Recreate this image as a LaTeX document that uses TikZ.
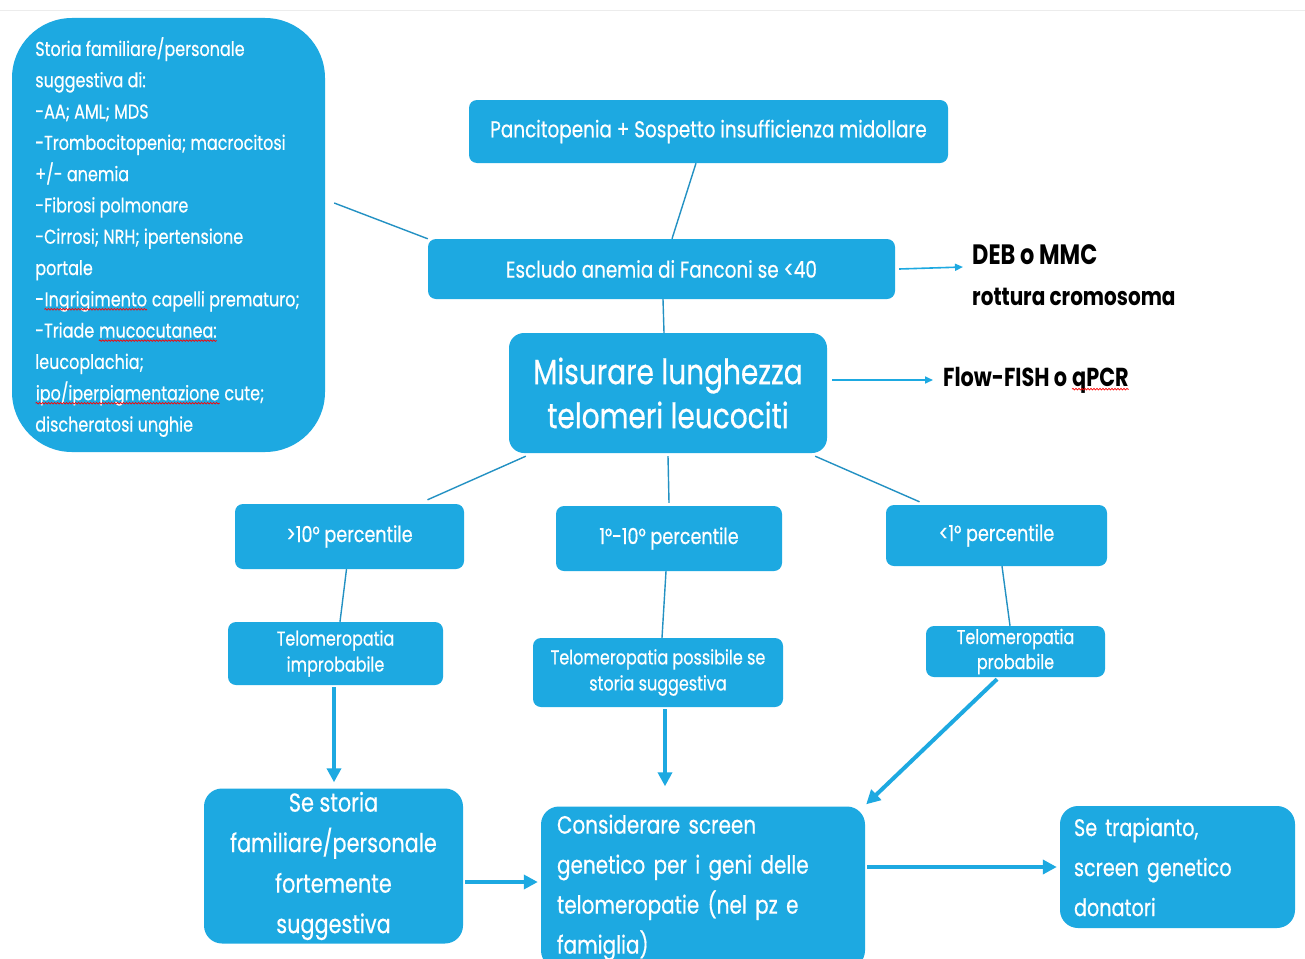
\documentclass[tikz,border=0pt]{standalone}
\usepackage{fontspec}
\setmainfont[FakeStretch=0.8, UprightFeatures={FakeBold=0.5}]{Poppins}
\usetikzlibrary{arrows.meta,decorations.pathmorphing}
\definecolor{boxblue}{RGB}{29,169,225}
\definecolor{lineblue}{RGB}{35,145,195}
\newcommand\spellmark[1]{\tikz[baseline=(sw.base), sharp corners, x=1pt, y=1pt]{\node[inner sep=0pt, fill=none] (sw) {#1};
  \draw[red, line width=0.7pt, decorate, decoration={snake, amplitude=0.8pt, segment length=3pt}]
  ([yshift=-3pt]sw.base west) -- ([yshift=-3pt]sw.base east);}}
\tikzset{
  box/.style={fill=boxblue, text=white, rounded corners=8pt, align=center, inner sep=0pt},
  link/.style={draw=lineblue, line width=1.4pt},
  flow/.style={draw=boxblue, line width=4pt, -{Triangle[length=14pt,width=14pt]}},
  hint/.style={draw=boxblue, line width=1.6pt, -{Triangle[length=8pt,width=7pt]}},
  lab/.style={anchor=west, font=\bfseries, inner sep=0pt}
}

\begin{document}
\begin{tikzpicture}[x=1pt,y=-1pt]
\useasboundingbox (0,0) rectangle (1305,958);
\clip (0,0) rectangle (1305,958);
\fill[white] (0,0) rectangle (1305,958);
\draw[gray!15] (0,10) -- (1305,10);

% boxes
\node[box, rounded corners=60pt, minimum width=313pt, minimum height=434pt] (hist) at (168.5,235) {};
\node[align=left, text=white, inner sep=0pt, font=\fontsize{20}{31.3}\selectfont] (histtxt) at (167.5,237)
  {Storia familiare/personale\\ suggestiva di:\\ -AA; AML; MDS\\ -Trombocitopenia; macrocitosi\\
   +/- anemia\\ -Fibrosi polmonare\\ -Cirrosi; NRH; ipertensione\\ portale\\
   -\spellmark{Ingrigimento} capelli prematuro;\\ -Triade \spellmark{mucocutanea:}\\ leucoplachia;\\
   \spellmark{ipo/iperpigmentazione} cute;\\ discheratosi unghie};
\node[box, minimum width=479pt, minimum height=63pt, font=\fontsize{23}{28}\selectfont] (panc) at (708.5,131.5)
  {Pancitopenia + Sospetto insufficienza midollare};
\node[box, minimum width=467pt, minimum height=60pt, font=\fontsize{23}{28}\selectfont] (escl) at (661.5,269)
  {Escludo anemia di Fanconi se <40};
\node[box, rounded corners=15pt, minimum width=318pt, minimum height=120pt, font=\fontsize{35}{44}\selectfont] (misu) at (668,393)
  {Misurare lunghezza\\ telomeri leucociti};
\node[box, minimum width=229pt, minimum height=65pt, font=\fontsize{22}{26}\selectfont] (p10) at (349.5,536.5)
  {>10\textdegree{} percentile};
\node[box, minimum width=226pt, minimum height=65pt, font=\fontsize{22}{26}\selectfont] (p110) at (669,538.5)
  {1\textdegree-10\textdegree{} percentile};
\node[box, minimum width=221pt, minimum height=61pt, font=\fontsize{22}{26}\selectfont] (p1) at (996.5,535.5)
  {<1\textdegree{} percentile};
\node[box, minimum width=215pt, minimum height=63pt, font=\fontsize{20}{26}\selectfont] (timp) at (335.5,653.5)
  {Telomeropatia\\ improbabile};
\node[box, minimum width=250pt, minimum height=69pt, font=\fontsize{20}{26}\selectfont] (tposs) at (658,672.5)
  {Telomeropatia possibile se\\ storia suggestiva};
\node[box, minimum width=179pt, minimum height=51pt, font=\fontsize{20}{25}\selectfont] (tprob) at (1015.5,651.5)
  {Telomeropatia\\ probabile};
\node[box, rounded corners=18pt, minimum width=259pt, minimum height=155pt, font=\fontsize{26}{40.5}\selectfont] (sest) at (333.5,866)
  {Se storia\\ familiare/personale\\ fortemente\\ suggestiva};
\node[box, rounded corners=18pt, minimum width=324pt, minimum height=162pt, text width=292pt, align=left,
  font=\fontsize{25}{40}\selectfont] (cons) at (703,887.5)
  {Considerare screen\\ genetico per i geni delle\\ telomeropatie (nel pz e\\ famiglia)};
\node[box, rounded corners=18pt, minimum width=235pt, minimum height=122pt, text width=207pt, align=left,
  font=\fontsize{24}{40}\selectfont] (trap) at (1177.5,867)
  {Se trapianto,\\ screen genetico\\ donatori};

% side labels
\node[lab, font=\bfseries\fontsize{28}{30}\selectfont] (deb) at (972,255) {DEB o MMC};
\node[lab, font=\bfseries\fontsize{25}{28}\selectfont] (rott) at (972,297) {rottura cromosoma};
\node[lab, font=\bfseries\fontsize{26}{30}\selectfont] (flow) at (943,380) {Flow-FISH o \spellmark{qPCR}};

% thin links
\draw[link] ([xshift=9pt,yshift=32pt]hist.east) -- (escl.north west);
\draw[link] ([xshift=-12.5pt]panc.south) -- ([xshift=10.5pt]escl.north);
\draw[link] ([xshift=1.5pt]escl.south) -- ([xshift=-4pt]misu.north);
\draw[link] ([xshift=17pt,yshift=-3pt]misu.south west) -- ([xshift=78pt,yshift=4pt]p10.north);
\draw[link] ([yshift=-3pt]misu.south) -- ([yshift=3pt]p110.north);
\draw[link] ([xshift=-12pt,yshift=-3pt]misu.south east) -- ([xshift=-77pt,yshift=3pt]p1.north);
\draw[link] ([xshift=-3pt]p10.south) -- ([xshift=4.5pt]timp.north);
\draw[link] ([xshift=-3pt]p110.south) -- ([xshift=4pt]tposs.north);
\draw[link] ([xshift=5.5pt]p1.south) -- ([xshift=-5.5pt]tprob.north);
\draw[hint] ([xshift=4pt]escl.east) -- ([xshift=-9pt,yshift=-12pt]deb.west);
\draw[hint] ([xshift=5pt,yshift=13pt]misu.east) -- ([xshift=-10pt]flow.west);

% thick arrows
\coordinate (c1) at ([xshift=-38pt,yshift=20pt]cons.north);
\draw[flow] ([xshift=-1.5pt,yshift=-2pt]timp.south) -- ([xshift=0.5pt,yshift=6pt]sest.north);
\draw[flow] ([xshift=7pt,yshift=-2pt]tposs.south) -- (c1);
\draw[flow] ([xshift=-18.5pt,yshift=-2pt]tprob.south) -- ([xshift=1pt,yshift=2pt]cons.north east);
\draw[flow] ([xshift=2pt,yshift=-16pt]sest.east) -- ([xshift=-3pt,yshift=5.5pt]cons.west);
\draw[flow] ([xshift=2pt]cons.east |- trap.west) -- ([xshift=-3pt]trap.west);
\end{tikzpicture}
\end{document}
